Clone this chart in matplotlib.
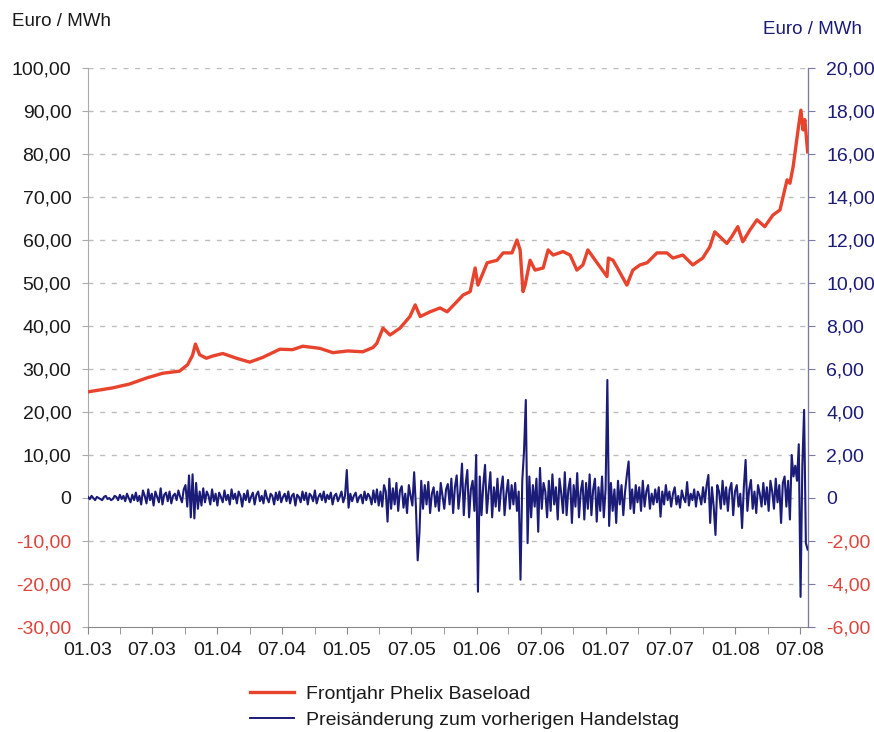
import pandas as pd
import matplotlib
matplotlib.use('Agg')
import matplotlib.pyplot as plt
import matplotlib.dates as mdates
from matplotlib.lines import Line2D

plt.rcParams['font.family'] = ['Liberation Sans', 'DejaVu Sans']

# Frontjahr Phelix Baseload (Euro / MWh)
front_dates = [
    '2003-01-02', '2003-03-11', '2003-04-28', '2003-06-15', '2003-07-30', '2003-09-16',
    '2003-10-09', '2003-10-23', '2003-10-31', '2003-11-12', '2003-12-01', '2003-12-18',
    '2004-01-16', '2004-02-24', '2004-04-01', '2004-05-08', '2004-06-25', '2004-07-31',
    '2004-08-29', '2004-10-16', '2004-11-22', '2005-01-03', '2005-02-14', '2005-03-15',
    '2005-03-26', '2005-04-12', '2005-05-02', '2005-05-30', '2005-06-27', '2005-07-12',
    '2005-07-26', '2005-08-23', '2005-09-20', '2005-10-10', '2005-11-07', '2005-11-24',
    '2005-12-14', '2005-12-28', '2006-01-05', '2006-01-31', '2006-02-28', '2006-03-17',
    '2006-04-11', '2006-04-25', '2006-05-04', '2006-05-12', '2006-05-18', '2006-06-01',
    '2006-06-15', '2006-07-08', '2006-07-22', '2006-08-05', '2006-09-02', '2006-09-22',
    '2006-10-11', '2006-10-28', '2006-11-11', '2006-12-07', '2007-01-04', '2007-01-08',
    '2007-01-21', '2007-02-09', '2007-03-01', '2007-03-18', '2007-04-07', '2007-04-27',
    '2007-05-25', '2007-06-22', '2007-07-09', '2007-08-06', '2007-09-03', '2007-10-01',
    '2007-10-21', '2007-11-04', '2007-11-18', '2007-12-08', '2007-12-22', '2008-01-08',
    '2008-01-22', '2008-02-11', '2008-03-02', '2008-03-24', '2008-04-16', '2008-05-06',
    '2008-05-26', '2008-06-03', '2008-06-12', '2008-06-26', '2008-07-04', '2008-07-10',
    '2008-07-15', '2008-07-23',
]
front_values = [
    24.7, 25.6, 26.5, 27.9, 29.0, 29.5,
    31.0, 33.2, 35.8, 33.3, 32.5, 33.0,
    33.6, 32.5, 31.6, 32.7, 34.6, 34.5,
    35.3, 34.8, 33.8, 34.2, 34.0, 35.0,
    36.0, 39.5, 37.9, 39.5, 42.2, 44.9,
    42.2, 43.3, 44.2, 43.3, 45.7, 47.2,
    48.0, 53.5, 49.5, 54.7, 55.3, 57.0,
    57.0, 60.0, 57.7, 48.0, 49.5, 55.3,
    53.0, 53.5, 57.7, 56.5, 57.3, 56.5,
    53.0, 54.2, 57.7, 54.7, 51.5, 55.8,
    55.3, 52.5, 49.5, 53.0, 54.2, 54.7,
    57.0, 57.0, 55.8, 56.5, 54.2, 55.8,
    58.4, 61.9, 60.8, 59.2, 60.8, 63.1,
    59.6, 62.3, 64.7, 63.1, 65.8, 67.0,
    74.0, 73.2, 77.0, 85.6, 90.2, 85.6,
    88.0, 80.5,
]

# Preisaenderung zum vorherigen Handelstag (right axis), sampled every 5 days from 01.01.2003
change_start = '2003-01-01'
daily_change = [
    # 2003
    0.05, -0.05, 0.1, 0.0, -0.1, 0.05, 0.0, -0.05, -0.1, 0.05,
    0.1, -0.05, 0.0, -0.1, -0.05, 0.1, 0.05, -0.1, 0.15, -0.05,
    0.1, -0.15, 0.2, 0.0, -0.2, 0.15, -0.1, 0.25, -0.15, 0.1,
    -0.3, 0.35, 0.1, -0.25, 0.4, -0.1, 0.2, -0.35, 0.3, 0.05,
    -0.2, 0.45, -0.3, 0.15, 0.25, -0.15, 0.3, -0.25, 0.1, 0.2,
    -0.1, 0.35, 0.05, -0.2, 0.4,
    0.6, -0.4, 1.05, -0.9, 1.1, -0.95, 0.7, -0.5, 0.3,
    # 2004
    -0.35, 0.45, -0.2, 0.3, 0.1, -0.3, 0.4, -0.15, 0.2, -0.35,
    0.25, 0.05, -0.2, 0.35, -0.1, 0.15, -0.3, 0.4, -0.05, 0.2,
    -0.25, 0.3, 0.1, -0.4, 0.2, -0.1, 0.35, -0.2, 0.05, 0.25,
    -0.3, 0.15, 0.3, -0.15, 0.1, -0.25, 0.35, 0.0, -0.2, 0.2,
    0.1, -0.3, 0.25, -0.1, 0.3, -0.2, 0.05, 0.2, -0.15, 0.3,
    -0.25, 0.1, 0.2, -0.35, 0.15, 0.05, -0.2, 0.3, -0.1, 0.25,
    -0.3, 0.2, 0.1, -0.15, 0.35, -0.25, 0.05, 0.2, -0.1, 0.3,
    -0.2, 0.15, -0.05, 0.25, -0.3, 0.1, 0.2, -0.15, 0.05, 0.3, -0.2, 0.1,
    # 2005
    1.3, -0.45,
    0.2, -0.15, 0.1, 0.25, -0.2, 0.05, 0.15, -0.25, 0.3, -0.1,
    0.2, 0.05, -0.3, 0.35, -0.2, 0.4, -0.35, 0.3,
    -0.4, 0.6, 0.3, -1.1, 0.9, -0.5, 0.45, -0.3, 0.7, -0.6,
    0.35, 0.55, -0.45, 0.2, -0.7, 0.6, 0.1, -0.35,
    1.2, -0.4, -2.9, -1.6, 0.8, -0.5,
    0.6, -0.3, 0.75, -0.7, 0.2, 0.5, -0.4, 0.3, -0.6, 0.7,
    0.1, -0.5, 0.4, 0.65, -0.3, 0.9, -0.7, 0.5, 1.05, -0.5,
    0.3, 1.6, -0.8, 0.6, 1.3, -0.9, 0.4, 0.8, -0.6,
    # 2006
    2.0, -4.36, 1.0,
    -0.8, 0.6, 1.54, -0.7, 0.3, 1.2, -0.9, 0.5, -0.4, 0.9,
    -0.6, 0.4, 1.0, -0.8, 0.2, 0.84, -0.5, 0.6, -0.3, 0.7, -0.6, 0.3,
    -3.8, 0.8, 2.2, 4.56, -2.1, 1.0,
    -0.9, 0.6, -0.4, 0.9, -1.57, 1.4, -0.5, 0.7, 0.3, -0.9,
    0.8, -0.6, 1.1, -0.3, 0.5, -1.0, 0.9, 0.2, -0.7, 1.2,
    -0.8, 0.4, 0.9, -1.16, 0.6, -0.4, 1.16, -0.9, 0.3, 0.8,
    -1.0, 0.7, -0.5, 1.1, -0.8, 0.4, 0.9, -1.1, 0.5, -0.6, 1.0, -0.9, 0.4,
    # 2007
    5.49, -1.3,
    0.7, -0.6, 0.4, -1.16, 0.8, -0.3, 0.6, -0.8, 0.3, 1.07,
    1.7, -0.5, 0.4, -0.7, 0.6, -0.2, 0.5, -0.6, 0.8, -0.4,
    0.3, 0.6, -0.5, 0.2, -0.3,
    0.4, -0.2, 0.5, -0.87, 0.3, -0.3, 0.6, -0.1, 0.3, -0.4,
    0.2, 0.5, -0.3, 0.1, -0.45, 0.35, 0.0, -0.2, 0.74, -0.35,
    0.2, -0.1, 0.4, -0.4, 0.3, 0.1, -0.3, 0.5, -0.2, 0.6,
    1.07, -1.16, 0.5, -0.4, -1.72, 0.6, 0.3, -0.5, 0.8, -0.3,
    0.5, -0.6, 0.4, 0.7, -0.8, 0.3, 0.6, -0.4, 0.2, -1.4, 0.5,
    # 2008
    1.77, -0.6, 0.4, 0.84, -0.5, 0.3, -0.7, 0.6, 0.2, -0.4,
    0.7, -0.3, 0.5, -0.6, 0.8, 0.3, -0.5, 0.9, -0.2, 0.6,
    -1.16, 0.7, 1.0, -0.4, 0.8,
    -1.0, 2.0, 1.0, 1.5, 0.8, 2.5, -4.6, 1.5, 4.1, -2.1, -2.4,
]

left_ticks = list(range(-30, 101, 10))
right_ticks = list(range(-6, 21, 2))

RED = '#e8432c'
NAVY = '#1b1b78'
TXT = '#1a1a1a'
NEG = '#e0443c'


def fmt(v):
    return '0' if v == 0 else f'{v:.2f}'.replace('.', ',')


front_x = pd.to_datetime(front_dates)
change_x = pd.date_range(change_start, periods=len(daily_change), freq='5D')

fig = plt.figure(figsize=(8.74, 7.32), dpi=100)
ax = fig.add_axes([88 / 874, 1 - 627 / 732, 720 / 874, 559 / 732])
ax2 = ax.twinx()

ax.plot(front_x, front_values, color=RED, lw=2.4, solid_joinstyle='round', zorder=3)
ax2.plot(change_x, daily_change, color=NAVY, lw=1.5, zorder=3)

ax.set_xlim(pd.Timestamp('2003-01-01'), pd.Timestamp('2008-07-24'))
ax.set_ylim(-30, 100)
ax2.set_ylim(-6, 20)

ax.set_yticks(left_ticks, labels=[fmt(v) for v in left_ticks])
ax2.set_yticks(right_ticks, labels=[fmt(v) for v in right_ticks])
for t, v in zip(ax.get_yticklabels(), left_ticks):
    t.set_color(NEG if v < 0 else TXT)
for t, v in zip(ax2.get_yticklabels(), right_ticks):
    t.set_color(NEG if v < 0 else NAVY)

ax.xaxis.set_major_locator(mdates.MonthLocator(bymonth=[1, 7]))
ax.xaxis.set_minor_locator(mdates.MonthLocator(bymonth=[4, 10]))
ax.xaxis.set_major_formatter(mdates.DateFormatter('%m.%y'))

ax.tick_params(axis='x', which='both', length=5, color='#888888', labelsize=14, labelcolor=TXT, pad=6)
ax.tick_params(axis='y', length=4, color='#aaaaaa', labelsize=14, pad=8)
ax2.tick_params(axis='y', length=5, color='#7a7aa8', labelsize=14, pad=8)

for y in left_ticks[1:]:
    ax.axhline(y, color='#bdbdbd', lw=1.0, dashes=(3.6, 4.8), zorder=1)

for a in (ax, ax2):
    a.spines['top'].set_visible(False)
ax.spines['left'].set_color('#aaaaaa')
ax.spines['bottom'].set_color('#888888')
ax2.spines['left'].set_visible(False)
ax2.spines['bottom'].set_visible(False)
ax2.spines['right'].set_color('#7a7aa8')

fig.text(12 / 874, 1 - 22 / 732, 'Euro / MWh', fontsize=13.5, color=TXT, va='center', ha='left')
fig.text(862 / 874, 1 - 30 / 732, 'Euro / MWh', fontsize=13.5, color=NAVY, va='center', ha='right')

handles = [Line2D([], [], color=RED, lw=2.4), Line2D([], [], color=NAVY, lw=1.4)]
fig.legend(handles, ['Frontjahr Phelix Baseload', 'Preisänderung zum vorherigen Handelstag'],
           loc='upper left', bbox_to_anchor=(236 / 874, 1 - 672 / 732), frameon=False,
           fontsize=14, handlelength=2.3, handletextpad=0.6, labelspacing=0.4,
           borderpad=0.2, labelcolor=TXT)

fig.savefig('out.png', dpi=100, facecolor='white')
